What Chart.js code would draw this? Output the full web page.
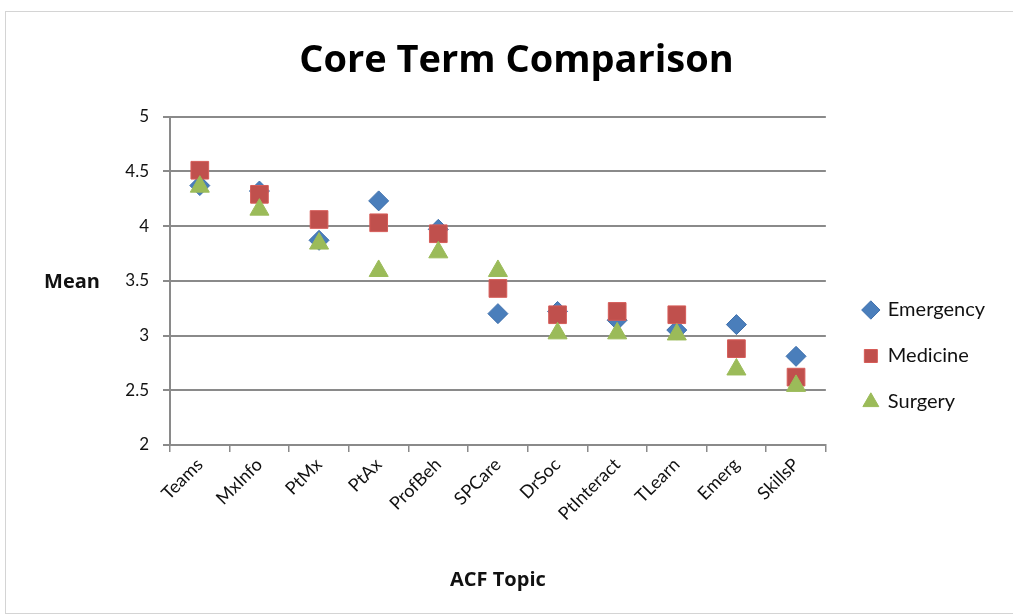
<!DOCTYPE html>
<html>
<head>
<meta charset="utf-8">
<script src="https://cdn.jsdelivr.net/npm/chart.js@4/dist/chart.umd.min.js"></script>
<style>
  html, body { margin: 0; padding: 0; background: #fff; }
  #wrap { position: relative; width: 1013px; height: 616px; }
  #frame { position: absolute; left: 5px; top: 11px; width: 1020px; height: 601px;
           border: 1px solid #d4d4d4; pointer-events: none; }
</style>
</head>
<body>
<div id="wrap">
  <canvas id="chart" width="1013" height="616"></canvas>
  <div id="frame"></div>
</div>
<script>
// Dados
const topics = ['Teams', 'MxInfo', 'PtMx', 'PtAx', 'ProfBeh', 'SPCare', 'DrSoc', 'PtInteract', 'TLearn', 'Emerg', 'SkillsP'];
const emergency = [4.37, 4.32, 3.87, 4.23, 3.97, 3.20, 3.22, 3.14, 3.05, 3.10, 2.81];
const medicine  = [4.51, 4.29, 4.06, 4.03, 3.93, 3.43, 3.19, 3.22, 3.19, 2.88, 2.62];
const surgery   = [4.36, 4.15, 3.84, 3.59, 3.76, 3.59, 3.02, 3.02, 3.01, 2.69, 2.54];
const yTicks = [2, 2.5, 3, 3.5, 4, 4.5, 5];

const gridColor = '#8a8a8a';
const fontFamily = 'Lato, "Open Sans", sans-serif';
const boldFamily = '"Open Sans", Lato, sans-serif';

// Rótulo "Mean" horizontal ao lado do eixo Y
const meanLabel = {
    id: 'meanLabel',
    afterDraw(chart) {
        const ctx = chart.ctx;
        const area = chart.chartArea;
        ctx.save();
        ctx.font = 'bold 20px ' + boldFamily;
        ctx.fillStyle = '#111';
        ctx.textAlign = 'center';
        ctx.textBaseline = 'middle';
        ctx.fillText('Mean', 72, (area.top + area.bottom) / 2 + 1);
        ctx.restore();
    }
};

// Ajusta a posição da legenda (um pouco acima e à direita)
const legendShift = {
    id: 'legendShift',
    afterLayout(chart) {
        if (chart.legend) {
            chart.legend.top -= 7;
            chart.legend.bottom -= 7;
            chart.legend.left += 12;
            chart.legend.right += 12;
        }
    }
};

new Chart(document.getElementById('chart'), {
    type: 'line',
    data: {
        labels: topics,
        datasets: [
            {
                label: 'Emergency',
                data: emergency,
                showLine: false,
                pointStyle: 'rectRot',
                pointRadius: 10,
                pointHoverRadius: 10,
                backgroundColor: '#4a7ebb',
                borderColor: '#3f70ad',
                borderWidth: 1,
                order: 2
            },
            {
                label: 'Medicine',
                data: medicine,
                showLine: false,
                pointStyle: 'rect',
                pointRadius: 12.5,
                pointHoverRadius: 12.5,
                backgroundColor: '#c0504d',
                borderColor: '#d65c58',
                borderWidth: 1,
                order: 1
            },
            {
                label: 'Surgery',
                data: surgery,
                showLine: false,
                pointStyle: 'triangle',
                pointRadius: 11,
                pointHoverRadius: 11,
                backgroundColor: '#9bbb59',
                borderColor: '#9bbb59',
                borderWidth: 1,
                order: 0
            }
        ]
    },
    options: {
        responsive: false,
        animation: false,
        layout: {
            padding: { top: 20, left: 50, right: 30, bottom: 0 }
        },
        scales: {
            x: {
                offset: true,
                grid: {
                    offset: true,
                    drawOnChartArea: false,
                    color: gridColor,
                    lineWidth: 1.5,
                    tickLength: 7
                },
                border: { color: gridColor, width: 2 },
                ticks: {
                    color: '#111',
                    font: { family: fontFamily, size: 18 },
                    minRotation: 45,
                    maxRotation: 45,
                    padding: 2
                },
                title: {
                    display: true,
                    text: 'ACF Topic',
                    color: '#111',
                    font: { family: boldFamily, size: 20, weight: 'bold' },
                    padding: { top: 0, bottom: 24 }
                },
                afterFit: function(scale) { scale.height = 171; }
            },
            y: {
                min: 2,
                max: 5,
                afterBuildTicks: function(scale) {
                    scale.ticks = yTicks.map(v => ({ value: v }));
                },
                grid: {
                    color: gridColor,
                    lineWidth: 2,
                    tickLength: 7
                },
                border: { color: gridColor, width: 2 },
                ticks: {
                    color: '#111',
                    font: { family: fontFamily, size: 17 },
                    padding: 14,
                    callback: function(value) { return String(value); }
                },
                afterFit: function(scale) { scale.width = 120; }
            }
        },
        plugins: {
            title: {
                display: true,
                text: 'Core Term Comparison',
                color: '#000',
                font: { family: boldFamily, size: 38, weight: 'bold' },
                padding: { top: 18, bottom: 33 }
            },
            legend: {
                position: 'right',
                align: 'end',
                fullSize: false,
                labels: {
                    usePointStyle: true,
                    boxHeight: 13,
                    boxWidth: 14,
                    color: '#111',
                    font: { family: fontFamily, size: 20 },
                    padding: 26,
                    sort: function(a, b) { return a.datasetIndex - b.datasetIndex; }
                }
            },
            tooltip: { enabled: false }
        }
    },
    plugins: [meanLabel, legendShift]
});
</script>
</body>
</html>
